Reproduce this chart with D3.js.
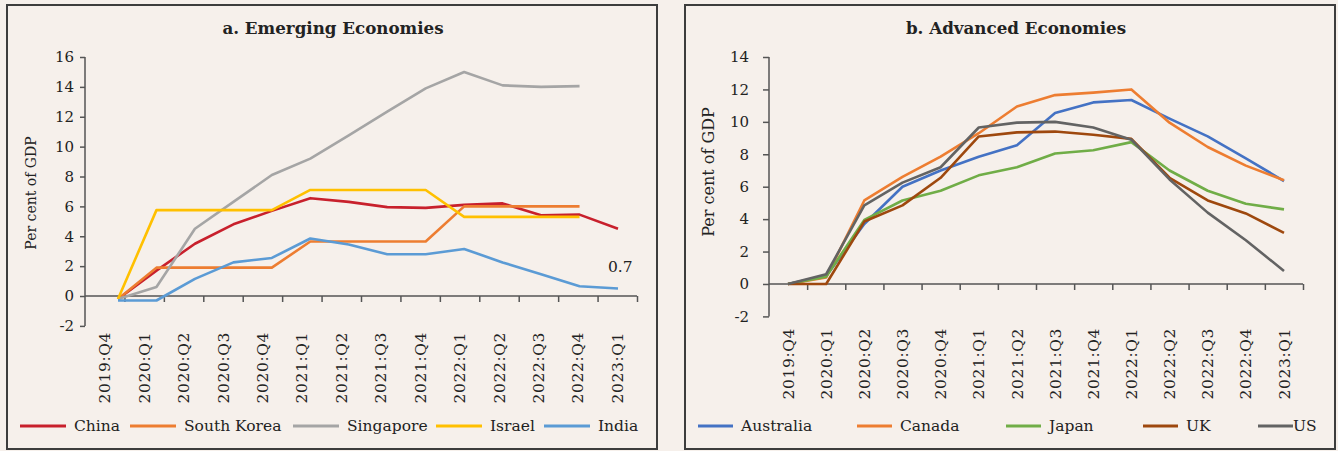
<!DOCTYPE html>
<html lang="en">
    <head>
        <meta charset="utf-8">
        <title>Fiscal support: Emerging vs Advanced Economies</title>
        <script src="https://cdn.jsdelivr.net/npm/d3@7"></script>
        <style>
            body { margin: 0; background: #f6f0eb; }
            svg { display: block; }
            text { font-family: "DejaVu Serif", serif; fill: #222; }
        </style>
    </head>
    <body>
        <script>
            // Quarter labels shared by both panels
            var quarters = ["2019:Q4", "2020:Q1", "2020:Q2", "2020:Q3", "2020:Q4", "2021:Q1", "2021:Q2",
                            "2021:Q3", "2021:Q4", "2022:Q1", "2022:Q2", "2022:Q3", "2022:Q4", "2023:Q1"];

            // Panel a: emerging economies (per cent of GDP)
            var emergingNames = ["China", "South Korea", "Singapore", "Israel", "India"];
            var china      = [-0.2, 1.7, 3.5, 4.8, 5.7, 6.55, 6.3, 5.95, 5.9, 6.1, 6.2, 5.4, 5.45, 4.5];
            var southKorea = [-0.2, 1.9, 1.9, 1.9, 1.9, 3.65, 3.65, 3.65, 3.65, 6.0, 6.0, 6.0, 6.0, null];
            var singapore  = [-0.2, 0.6, 4.5, 6.3, 8.1, 9.2, 10.75, 12.35, 13.9, 15.0, 14.1, 14.0, 14.05, null];
            var israel     = [-0.2, 5.75, 5.75, 5.75, 5.75, 7.1, 7.1, 7.1, 7.1, 5.3, 5.3, 5.3, 5.3, null];
            var india      = [-0.3, -0.3, 1.15, 2.25, 2.55, 3.85, 3.45, 2.8, 2.8, 3.15, 2.25, 1.45, 0.65, 0.5];
            var emergingTicks = [-2, 0, 2, 4, 6, 8, 10, 12, 14, 16];

            // Panel b: advanced economies (per cent of GDP)
            var advancedNames = ["Australia", "Canada", "Japan", "UK", "US"];
            var australia = [0, 0.5, 3.7, 6.0, 7.0, 7.85, 8.55, 10.55, 11.2, 11.35, 10.2, 9.1, 7.75, 6.35];
            var canada    = [0, 0.4, 5.15, 6.6, 7.85, 9.3, 10.95, 11.65, 11.8, 12.0, 9.95, 8.45, 7.3, 6.4];
            var japan     = [0, 0.45, 3.95, 5.15, 5.75, 6.7, 7.2, 8.05, 8.25, 8.75, 7.0, 5.75, 4.95, 4.6];
            var uk        = [0, 0, 3.85, 4.85, 6.55, 9.1, 9.35, 9.4, 9.2, 8.95, 6.55, 5.15, 4.35, 3.15];
            var us        = [0, 0.6, 4.85, 6.25, 7.2, 9.65, 9.95, 10.0, 9.65, 8.9, 6.45, 4.4, 2.7, 0.8];
            var advancedTicks = [-2, 0, 2, 4, 6, 8, 10, 12, 14];

            var w = 1338;
            var h = 451;

            var svg = d3.select("body")
                        .append("svg")
                        .attr("width", w)
                        .attr("height", h);

            // Draws one framed panel with its axes, lines and legend
            function drawPanel(p) {
                var g = svg.append("g");

                g.append("rect")
                    .attr("x", p.box[0]).attr("y", p.box[1])
                    .attr("width", p.box[2] - p.box[0]).attr("height", p.box[3] - p.box[1])
                    .attr("fill", "#f6f0eb")
                    .attr("stroke", "#3d3d3d")
                    .attr("stroke-width", 2);

                g.append("text")
                    .attr("x", p.titleX).attr("y", 34)
                    .attr("text-anchor", "middle")
                    .attr("font-size", "16.7px")
                    .attr("font-weight", "bold")
                    .text(p.title);

                var y = d3.scaleLinear().domain(p.yDomain).range(p.yRange);
                var xBand = d3.scaleBand().domain(quarters).range(p.xRange);
                var xIdx = d3.scaleLinear().domain([0, quarters.length]).range(p.xRange);
                // Line vertices may sit slightly off the band centres (as in the original)
                var xLine = d3.scalePoint().domain(quarters).range(p.lineRange);

                // Y axis
                var yAxis = g.append("g")
                    .attr("transform", "translate(" + p.xRange[0] + ",0)")
                    .call(d3.axisLeft(y).tickValues(p.ticks).tickSize(p.yTickSize).tickPadding(p.yTickPad)
                        .tickFormat(function(d) { return String(d); }));
                yAxis.selectAll("text").attr("font-size", "15px").attr("font-family", "DejaVu Serif").attr("fill", "#222");
                yAxis.selectAll("line, path").attr("stroke", "#555").attr("stroke-width", 1.5);
                yAxis.select("path").attr("d", "M0," + y(p.yDomain[0]) + "V" + y(p.yDomain[1]));

                // X axis sits on zero, ticks between categories
                var xAxis = g.append("g")
                    .attr("transform", "translate(0," + y(0) + ")")
                    .call(d3.axisBottom(xIdx).tickValues(d3.range(1, quarters.length + 1)).tickSize(6).tickFormat(""));
                xAxis.selectAll("line, path").attr("stroke", "#555").attr("stroke-width", 1.5);
                xAxis.select("path").attr("d", "M" + p.xRange[0] + ",0H" + p.xRange[1]);

                // Rotated quarter labels
                g.selectAll(".qlabel")
                    .data(quarters)
                    .enter()
                    .append("text")
                    .attr("class", "qlabel")
                    .attr("transform", function(d) {
                        return "translate(" + (xBand(d) + xBand.bandwidth() / 2) + "," + p.labelTop + ") rotate(-90)";
                    })
                    .attr("text-anchor", "end")
                    .attr("dy", "0.36em")
                    .attr("font-size", "15.5px")
                    .attr("letter-spacing", "0.6px")
                    .attr("fill", "#333")
                    .text(function(d) { return d; });

                // Y axis title
                g.append("text")
                    .attr("transform", "translate(" + p.yTitle[0] + "," + p.yTitle[1] + ") rotate(-90)")
                    .attr("text-anchor", "middle")
                    .attr("font-size", p.yTitleSize)
                    .text("Per cent of GDP");

                var line = d3.line()
                    .defined(function(d) { return d != null; })
                    .x(function(d, i) { return xLine(quarters[i]); })
                    .y(function(d) { return y(d); });

                g.selectAll(".series")
                    .data(p.series)
                    .enter()
                    .append("path")
                    .attr("fill", "none")
                    .attr("stroke", function(d, i) { return p.colors[i]; })
                    .attr("stroke-width", 2.6)
                    .attr("stroke-linejoin", "round")
                    .attr("d", function(d) { return line(d); });

                // Legend
                var leg = g.selectAll(".leg")
                    .data(p.names)
                    .enter()
                    .append("g")
                    .attr("transform", function(d, i) { return "translate(" + p.legendX[i] + ",426)"; });
                leg.append("line")
                    .attr("x1", 0).attr("x2", p.legendLen)
                    .attr("stroke", function(d, i) { return p.colors[i]; })
                    .attr("stroke-width", 3);
                leg.append("text")
                    .attr("x", function(d, i) { return p.legendLen + p.legendGap[i]; })
                    .attr("dy", "0.35em")
                    .attr("font-size", "15.5px")
                    .attr("fill", "#333")
                    .text(function(d) { return d; });

                return { g: g, x: xLine, y: y };
            }

            var left = drawPanel({
                box: [7, 5, 657, 449],
                title: "a. Emerging Economies",
                titleX: 333,
                xRange: [85, 637],
                lineRange: [118, 618],
                yDomain: [-2, 16],
                yRange: [325.9, 57],
                ticks: emergingTicks,
                yTickSize: 5,
                yTickPad: 6,
                labelTop: 332,
                yTitle: [36, 193],
                yTitleSize: "14px",
                names: emergingNames,
                series: [china, southKorea, singapore, israel, india],
                colors: ["#c8202c", "#ed7d31", "#a5a5a5", "#ffc000", "#5b9bd5"],
                legendX: [20, 130, 293, 436, 544],
                legendLen: 46,
                legendGap: [8, 8, 8, 8, 8]
            });

            // Data label on the last India point
            left.g.append("text")
                .attr("x", 608).attr("y", 272)
                .attr("font-size", "15.5px")
                .attr("fill", "#333")
                .text("0.7");

            drawPanel({
                box: [685, 5, 1335, 449],
                title: "b. Advanced Economies",
                titleX: 1016,
                xRange: [769, 1303],
                lineRange: [788, 1284],
                yDomain: [-2, 14],
                yRange: [316.4, 57],
                ticks: advancedTicks,
                yTickSize: 6,
                yTickPad: 14,
                labelTop: 328,
                yTitle: [714, 172],
                yTitleSize: "16px",
                names: advancedNames,
                series: [australia, canada, japan, uk, us],
                colors: ["#4472c4", "#ed7d31", "#70ad47", "#9e480e", "#636363"],
                legendX: [698, 857, 1006, 1143, 1258],
                legendLen: 35,
                legendGap: [8, 8, 8, 8, 0]
            });
        </script>
    </body>
</html>
